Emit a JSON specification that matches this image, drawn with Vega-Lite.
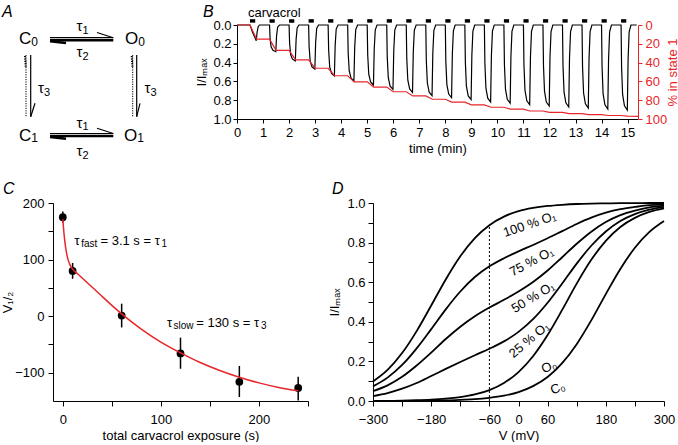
{
"$schema": "https://vega.github.io/schema/vega-lite/v6.json",
"padding": 0,
"bounds": "flush",
"spacing": 178,
"config": {
  "view": {"stroke": null},
  "font": "Liberation Sans",
  "axis": {"grid": false, "domainColor": "#000", "tickColor": "#000", "labelColor": "#000", "titleColor": "#000", "labelFontSize": 13, "titleFontSize": 13, "titleFontWeight": "normal", "domainWidth": 1, "tickWidth": 1, "labelFlush": false, "labelOverlap": false}
},
"vconcat": [
{
 "bounds": "flush",
 "spacing": 20,
 "hconcat": [
 {
  "width": 164, "height": 94,
  "layer": [
   {"data": {"values": [{"x": 0, "y": 0, "x2": 0.1, "y2": 0}]},
    "mark": {"type": "rule", "opacity": 0},
    "encoding": {"x": {"field": "x", "type": "quantitative", "scale": {"domain": [5.3, 21.7], "nice": false}, "axis": null},
                 "y": {"field": "y", "type": "quantitative", "scale": {"domain": [2.5, 11.9], "nice": false, "reverse": true}, "axis": null},
                 "x2": {"field": "x2"}, "y2": {"field": "y2"}}},
   {"data": {"values": [
      {"x": 5.0, "y": 3.77, "x2": 11.33, "y2": 3.77},
      {"x": 9.7, "y": 3.25, "x2": 11.33, "y2": 3.77},
      {"x": 5.0, "y": 13.35, "x2": 11.33, "y2": 13.35},
      {"x": 9.7, "y": 12.83, "x2": 11.33, "y2": 13.35},
      {"x": 3.07, "y": 5.5, "x2": 3.07, "y2": 11.67},
      {"x": 3.5, "y": 10.33, "x2": 3.07, "y2": 11.67},
      {"x": 13.67, "y": 5.5, "x2": 13.67, "y2": 11.67},
      {"x": 14.0, "y": 10.33, "x2": 13.67, "y2": 11.67}]},
    "mark": {"type": "rule", "color": "#000", "strokeWidth": 1.2},
    "encoding": {"x": {"field": "x", "type": "quantitative", "scale": {"domain": [5.3, 21.7], "nice": false}, "axis": null},
                 "y": {"field": "y", "type": "quantitative", "scale": {"domain": [2.5, 11.9], "nice": false, "reverse": true}, "axis": null},
                 "x2": {"field": "x2"}, "y2": {"field": "y2"}}},
   {"data": {"values": [
      {"x": 5.0, "y": 4.03, "x2": 11.33, "y2": 4.03},
      {"x": 5.0, "y": 4.12, "x2": 6.6, "y2": 4.3},
      {"x": 5.0, "y": 13.6, "x2": 11.33, "y2": 13.6},
      {"x": 5.0, "y": 13.69, "x2": 6.6, "y2": 13.87}]},
    "mark": {"type": "rule", "color": "#000", "strokeWidth": 2.5},
    "encoding": {"x": {"field": "x", "type": "quantitative", "scale": {"domain": [5.3, 21.7], "nice": false}, "axis": null},
                 "y": {"field": "y", "type": "quantitative", "scale": {"domain": [2.5, 11.9], "nice": false, "reverse": true}, "axis": null},
                 "x2": {"field": "x2"}, "y2": {"field": "y2"}}},
   {"data": {"values": [
      {"x": 2.6, "y": 5.5, "x2": 2.6, "y2": 11.67},
      {"x": 13.27, "y": 5.5, "x2": 13.27, "y2": 11.67}]},
    "mark": {"type": "rule", "color": "#000", "strokeWidth": 1, "strokeDash": [1.2, 1.2]},
    "encoding": {"x": {"field": "x", "type": "quantitative", "scale": {"domain": [5.3, 21.7], "nice": false}, "axis": null},
                 "y": {"field": "y", "type": "quantitative", "scale": {"domain": [2.5, 11.9], "nice": false, "reverse": true}, "axis": null},
                 "x2": {"field": "x2"}, "y2": {"field": "y2"}}},
   {"data": {"values": [
      {"x": 2.5, "y": 5.6, "x2": 2.58, "y2": 6.8},
      {"x": 13.17, "y": 5.6, "x2": 13.25, "y2": 6.8}]},
    "mark": {"type": "rule", "color": "#000", "strokeWidth": 2, "strokeDash": [1.2, 1.2]},
    "encoding": {"x": {"field": "x", "type": "quantitative", "scale": {"domain": [5.3, 21.7], "nice": false}, "axis": null},
                 "y": {"field": "y", "type": "quantitative", "scale": {"domain": [2.5, 11.9], "nice": false, "reverse": true}, "axis": null},
                 "x2": {"field": "x2"}, "y2": {"field": "y2"}}},
   {"data": {"values": [
      {"x": 3.12, "y": 4.4, "t": "C"}, {"x": 13.82, "y": 4.4, "t": "O"},
      {"x": 3.12, "y": 14.07, "t": "C"}, {"x": 13.72, "y": 14.07, "t": "O"}]},
    "mark": {"type": "text", "fontSize": 17, "align": "right", "baseline": "alphabetic", "color": "#000"},
    "encoding": {"x": {"field": "x", "type": "quantitative", "scale": {"domain": [5.3, 21.7], "nice": false}, "axis": null},
                 "y": {"field": "y", "type": "quantitative", "scale": {"domain": [2.5, 11.9], "nice": false, "reverse": true}, "axis": null},
                 "text": {"field": "t"}}},
   {"data": {"values": [
      {"x": 3.12, "y": 4.55, "t": "0"}, {"x": 13.82, "y": 4.55, "t": "0"},
      {"x": 3.12, "y": 14.22, "t": "1"}, {"x": 13.72, "y": 14.22, "t": "1"}]},
    "mark": {"type": "text", "fontSize": 12, "align": "left", "baseline": "alphabetic", "color": "#000"},
    "encoding": {"x": {"field": "x", "type": "quantitative", "scale": {"domain": [5.3, 21.7], "nice": false}, "axis": null},
                 "y": {"field": "y", "type": "quantitative", "scale": {"domain": [2.5, 11.9], "nice": false, "reverse": true}, "axis": null},
                 "text": {"field": "t"}}},
   {"data": {"values": [
      {"x": 8.25, "y": 3.1, "t": "τ"}, {"x": 8.25, "y": 5.7, "t": "τ"},
      {"x": 8.25, "y": 12.75, "t": "τ"}, {"x": 8.25, "y": 15.6, "t": "τ"},
      {"x": 4.4, "y": 9.3, "t": "τ"}, {"x": 15.05, "y": 9.3, "t": "τ"}]},
    "mark": {"type": "text", "fontSize": 15, "align": "right", "baseline": "alphabetic", "color": "#000"},
    "encoding": {"x": {"field": "x", "type": "quantitative", "scale": {"domain": [5.3, 21.7], "nice": false}, "axis": null},
                 "y": {"field": "y", "type": "quantitative", "scale": {"domain": [2.5, 11.9], "nice": false, "reverse": true}, "axis": null},
                 "text": {"field": "t"}}},
   {"data": {"values": [
      {"x": 8.25, "y": 3.35, "t": "1"}, {"x": 8.25, "y": 5.95, "t": "2"},
      {"x": 8.25, "y": 13.0, "t": "1"}, {"x": 8.25, "y": 15.85, "t": "2"},
      {"x": 4.4, "y": 9.55, "t": "3"}, {"x": 15.05, "y": 9.55, "t": "3"}]},
    "mark": {"type": "text", "fontSize": 11, "align": "left", "baseline": "alphabetic", "color": "#000"},
    "encoding": {"x": {"field": "x", "type": "quantitative", "scale": {"domain": [5.3, 21.7], "nice": false}, "axis": null},
                 "y": {"field": "y", "type": "quantitative", "scale": {"domain": [2.5, 11.9], "nice": false, "reverse": true}, "axis": null},
                 "text": {"field": "t"}}},
   {"data": {"values": [
      {"x": 0.2, "y": 0.38, "t": "A"}, {"x": 20.3, "y": 0.38, "t": "B"},
      {"x": 0.3, "y": 18.05, "t": "C"}, {"x": 33.2, "y": 18.05, "t": "D"}]},
    "mark": {"type": "text", "fontSize": 16, "fontStyle": "italic", "align": "left", "baseline": "top", "color": "#000"},
    "encoding": {"x": {"field": "x", "type": "quantitative", "scale": {"domain": [5.3, 21.7], "nice": false}, "axis": null},
                 "y": {"field": "y", "type": "quantitative", "scale": {"domain": [2.5, 11.9], "nice": false, "reverse": true}, "axis": null},
                 "text": {"field": "t"}}}
  ]
 },
 {
  "width": 401, "height": 94,
  "resolve": {"scale": {"y": "independent"}},
  "layer": [
   {"layer": [
     {"data": {"values": [
       {"s": 0.5, "e": 0.7}, {"s": 1.25, "e": 1.45}, {"s": 2.0, "e": 2.2}, {"s": 2.75, "e": 2.95},
       {"s": 3.5, "e": 3.7}, {"s": 4.25, "e": 4.45}, {"s": 5.0, "e": 5.2}, {"s": 5.75, "e": 5.95},
       {"s": 6.5, "e": 6.7}, {"s": 7.25, "e": 7.45}, {"s": 8.0, "e": 8.2}, {"s": 8.75, "e": 8.95},
       {"s": 9.5, "e": 9.7}, {"s": 10.25, "e": 10.45}, {"s": 11.0, "e": 11.2}, {"s": 11.75, "e": 11.95},
       {"s": 12.5, "e": 12.7}, {"s": 13.25, "e": 13.45}, {"s": 14.0, "e": 14.2}, {"s": 14.75, "e": 14.95}]},
      "mark": {"type": "rect", "color": "#000"},
      "encoding": {
        "x": {"field": "s", "type": "quantitative", "scale": {"domain": [0, 15.4], "nice": false},
              "axis": {"title": "time (min)", "values": [0,1,2,3,4,5,6,7,8,9,10,11,12,13,14,15], "format": "d", "tickSize": 4, "labelPadding": 3, "titlePadding": 3}},
        "x2": {"field": "e"},
        "y": {"datum": -0.025, "type": "quantitative", "scale": {"domain": [0, 1], "nice": false, "reverse": true},
              "axis": {"title": "I/Iₘₐₓ", "values": [0, 0.2, 0.4, 0.6, 0.8, 1], "format": ".1f", "tickSize": 4, "labelPadding": 2, "titlePadding": 4}},
        "y2": {"datum": -0.062}}},
     {"data": {"values": [{"label": "carvacrol"}]},
      "mark": {"type": "text", "align": "left", "baseline": "alphabetic", "fontSize": 13, "color": "#000"},
      "encoding": {
        "x": {"datum": 0.42, "type": "quantitative", "scale": {"domain": [0, 15.4], "nice": false},
              "axis": {"title": "time (min)", "values": [0,1,2,3,4,5,6,7,8,9,10,11,12,13,14,15], "format": "d", "tickSize": 4, "labelPadding": 3, "titlePadding": 3}},
        "y": {"datum": -0.09, "type": "quantitative", "scale": {"domain": [0, 1], "nice": false, "reverse": true},
              "axis": {"title": "I/Iₘₐₓ", "values": [0, 0.2, 0.4, 0.6, 0.8, 1], "format": ".1f", "tickSize": 4, "labelPadding": 2, "titlePadding": 4}},
        "text": {"field": "label"}}},
     {"data": {"values": [
       {"t":0,"i":0},{"t":0.5,"i":0},{"t":0.6,"i":0.08},{"t":0.7,"i":0.14},{"t":0.74,"i":0.167},{"t":0.77,"i":0.08},{"t":0.81,"i":0.02},{"t":0.86,"i":0},
       {"t":1.25,"i":0},{"t":1.27,"i":0.142},{"t":1.31,"i":0.233},{"t":1.38,"i":0.27},{"t":1.49,"i":0.284},{"t":1.52,"i":0.114},{"t":1.56,"i":0.023},{"t":1.63,"i":0},
       {"t":2.0,"i":0},{"t":2.02,"i":0.192},{"t":2.06,"i":0.314},{"t":2.13,"i":0.364},{"t":2.24,"i":0.383},{"t":2.27,"i":0.153},{"t":2.31,"i":0.031},{"t":2.38,"i":0},
       {"t":2.75,"i":0},{"t":2.77,"i":0.234},{"t":2.81,"i":0.384},{"t":2.88,"i":0.445},{"t":2.99,"i":0.468},{"t":3.02,"i":0.187},{"t":3.06,"i":0.037},{"t":3.13,"i":0},
       {"t":3.5,"i":0},{"t":3.52,"i":0.272},{"t":3.56,"i":0.445},{"t":3.63,"i":0.516},{"t":3.74,"i":0.543},{"t":3.77,"i":0.217},{"t":3.81,"i":0.043},{"t":3.88,"i":0},
       {"t":4.25,"i":0},{"t":4.27,"i":0.298},{"t":4.31,"i":0.489},{"t":4.38,"i":0.566},{"t":4.49,"i":0.596},{"t":4.52,"i":0.238},{"t":4.56,"i":0.048},{"t":4.63,"i":0},
       {"t":5.0,"i":0},{"t":5.02,"i":0.319},{"t":5.06,"i":0.523},{"t":5.13,"i":0.606},{"t":5.24,"i":0.638},{"t":5.27,"i":0.255},{"t":5.31,"i":0.051},{"t":5.38,"i":0},
       {"t":5.75,"i":0},{"t":5.77,"i":0.342},{"t":5.81,"i":0.561},{"t":5.88,"i":0.65},{"t":5.99,"i":0.684},{"t":6.02,"i":0.274},{"t":6.06,"i":0.055},{"t":6.13,"i":0},
       {"t":6.5,"i":0},{"t":6.52,"i":0.358},{"t":6.56,"i":0.587},{"t":6.63,"i":0.68},{"t":6.74,"i":0.716},{"t":6.77,"i":0.286},{"t":6.81,"i":0.057},{"t":6.88,"i":0},
       {"t":7.25,"i":0},{"t":7.27,"i":0.376},{"t":7.31,"i":0.617},{"t":7.38,"i":0.714},{"t":7.49,"i":0.752},{"t":7.52,"i":0.301},{"t":7.56,"i":0.06},{"t":7.63,"i":0},
       {"t":8.0,"i":0},{"t":8.02,"i":0.387},{"t":8.06,"i":0.634},{"t":8.13,"i":0.734},{"t":8.24,"i":0.773},{"t":8.27,"i":0.309},{"t":8.31,"i":0.062},{"t":8.38,"i":0},
       {"t":8.75,"i":0},{"t":8.77,"i":0.397},{"t":8.81,"i":0.651},{"t":8.88,"i":0.754},{"t":8.99,"i":0.794},{"t":9.02,"i":0.318},{"t":9.06,"i":0.064},{"t":9.13,"i":0},
       {"t":9.5,"i":0},{"t":9.52,"i":0.41},{"t":9.56,"i":0.672},{"t":9.63,"i":0.778},{"t":9.74,"i":0.819},{"t":9.77,"i":0.328},{"t":9.81,"i":0.066},{"t":9.88,"i":0},
       {"t":10.25,"i":0},{"t":10.27,"i":0.417},{"t":10.31,"i":0.683},{"t":10.38,"i":0.791},{"t":10.49,"i":0.833},{"t":10.52,"i":0.333},{"t":10.56,"i":0.067},{"t":10.63,"i":0},
       {"t":11.0,"i":0},{"t":11.02,"i":0.424},{"t":11.06,"i":0.695},{"t":11.13,"i":0.806},{"t":11.24,"i":0.848},{"t":11.27,"i":0.339},{"t":11.31,"i":0.068},{"t":11.38,"i":0},
       {"t":11.75,"i":0},{"t":11.77,"i":0.431},{"t":11.81,"i":0.707},{"t":11.88,"i":0.819},{"t":11.99,"i":0.862},{"t":12.02,"i":0.345},{"t":12.06,"i":0.069},{"t":12.13,"i":0},
       {"t":12.5,"i":0},{"t":12.52,"i":0.436},{"t":12.56,"i":0.715},{"t":12.63,"i":0.828},{"t":12.74,"i":0.872},{"t":12.77,"i":0.349},{"t":12.81,"i":0.07},{"t":12.88,"i":0},
       {"t":13.25,"i":0},{"t":13.27,"i":0.442},{"t":13.31,"i":0.724},{"t":13.38,"i":0.839},{"t":13.49,"i":0.883},{"t":13.52,"i":0.353},{"t":13.56,"i":0.071},{"t":13.63,"i":0},
       {"t":14.0,"i":0},{"t":14.02,"i":0.447},{"t":14.06,"i":0.733},{"t":14.13,"i":0.849},{"t":14.24,"i":0.894},{"t":14.27,"i":0.358},{"t":14.31,"i":0.072},{"t":14.38,"i":0},
       {"t":14.75,"i":0},{"t":14.77,"i":0.452},{"t":14.81,"i":0.741},{"t":14.88,"i":0.859},{"t":14.99,"i":0.904},{"t":15.02,"i":0.362},{"t":15.06,"i":0.072},{"t":15.13,"i":0},
       {"t":15.35,"i":0}]},
      "mark": {"type": "line", "color": "#000", "strokeWidth": 1.2},
      "encoding": {
        "x": {"field": "t", "type": "quantitative", "scale": {"domain": [0, 15.4], "nice": false},
              "axis": {"title": "time (min)", "values": [0,1,2,3,4,5,6,7,8,9,10,11,12,13,14,15], "format": "d", "tickSize": 4, "labelPadding": 3, "titlePadding": 3}},
        "y": {"field": "i", "type": "quantitative", "scale": {"domain": [0, 1], "nice": false, "reverse": true},
              "axis": {"title": "I/Iₘₐₓ", "values": [0, 0.2, 0.4, 0.6, 0.8, 1], "format": ".1f", "tickSize": 4, "labelPadding": 2, "titlePadding": 4}}}}
   ]},
   {"data": {"values": [
      {"t":0,"p":0},{"t":0.5,"p":0},{"t":0.75,"p":15},{"t":1.25,"p":15},{"t":1.5,"p":27},{"t":2.0,"p":27},{"t":2.25,"p":37},{"t":2.75,"p":37},
      {"t":3.0,"p":46},{"t":3.5,"p":46},{"t":3.75,"p":54},{"t":4.25,"p":54},{"t":4.5,"p":60.5},{"t":5.0,"p":60.5},{"t":5.25,"p":66},{"t":5.75,"p":66},
      {"t":6.0,"p":71},{"t":6.5,"p":71},{"t":6.75,"p":75.5},{"t":7.25,"p":75.5},{"t":7.5,"p":79},{"t":8.0,"p":79},{"t":8.25,"p":82},{"t":8.75,"p":82},
      {"t":9.0,"p":85},{"t":9.5,"p":85},{"t":9.75,"p":87.5},{"t":10.25,"p":87.5},{"t":10.5,"p":89.5},{"t":11.0,"p":89.5},{"t":11.25,"p":91.5},{"t":11.75,"p":91.5},
      {"t":12.0,"p":93},{"t":12.5,"p":93},{"t":12.75,"p":94.3},{"t":13.25,"p":94.3},{"t":13.5,"p":95.4},{"t":14.0,"p":95.4},{"t":14.25,"p":96.3},{"t":14.75,"p":96.3},
      {"t":15.0,"p":97},{"t":15.4,"p":97.2}]},
    "mark": {"type": "line", "color": "#e8262a", "strokeWidth": 1.2},
    "encoding": {
      "x": {"field": "t", "type": "quantitative", "scale": {"domain": [0, 15.4], "nice": false},
            "axis": {"title": "time (min)", "values": [0,1,2,3,4,5,6,7,8,9,10,11,12,13,14,15], "format": "d", "tickSize": 4, "labelPadding": 3, "titlePadding": 3}},
      "y": {"field": "p", "type": "quantitative", "scale": {"domain": [0, 100], "nice": false, "reverse": true},
            "axis": {"orient": "right", "title": "% in state 1", "values": [0, 20, 40, 60, 80, 100], "tickSize": 4, "labelPadding": 3, "titlePadding": 0, "titleAngle": 270, "titleBaseline": "top",
                     "domainColor": "#e8262a", "tickColor": "#e8262a", "labelColor": "#e8262a", "titleColor": "#e8262a"}}}}
  ]
 }
 ]
},
{
 "bounds": "flush",
 "spacing": 65,
 "hconcat": [
 {
  "width": 255, "height": 198,
  "layer": [
   {"data": {"values": [
      {"t": 0, "v": 175, "lo": 165, "hi": 185},
      {"t": 10, "v": 80, "lo": 66, "hi": 94},
      {"t": 60, "v": 1, "lo": -20, "hi": 22},
      {"t": 120, "v": -66, "lo": -93, "hi": -38},
      {"t": 180, "v": -116, "lo": -143, "hi": -88},
      {"t": 240, "v": -127, "lo": -149, "hi": -107}]},
    "layer": [
     {"mark": {"type": "rule", "color": "#000", "strokeWidth": 1.5},
      "encoding": {
        "x": {"field": "t", "type": "quantitative", "scale": {"domain": [-10, 250], "nice": false},
              "axis": {"title": "total carvacrol exposure (s)", "values": [0, 50, 100, 150, 200, 250], "labelExpr": "datum.value % 100 === 0 ? datum.label : ''", "tickSize": 5, "labelPadding": 7, "titlePadding": 3}},
        "y": {"field": "lo", "type": "quantitative", "scale": {"domain": [-150, 200], "nice": false},
              "axis": {"title": "V₁/₂", "values": [-100, -50, 0, 50, 100, 150, 200], "labelExpr": "datum.value % 100 === 0 ? replace(datum.label, '-', '−') : ''", "tickSize": 5, "labelPadding": 4, "titlePadding": 0}},
        "y2": {"field": "hi"}}},
     {"mark": {"type": "circle", "color": "#000", "size": 60, "opacity": 1},
      "encoding": {
        "x": {"field": "t", "type": "quantitative", "scale": {"domain": [-10, 250], "nice": false},
              "axis": {"title": "total carvacrol exposure (s)", "values": [0, 50, 100, 150, 200, 250], "labelExpr": "datum.value % 100 === 0 ? datum.label : ''", "tickSize": 5, "labelPadding": 7, "titlePadding": 3}},
        "y": {"field": "v", "type": "quantitative", "scale": {"domain": [-150, 200], "nice": false},
              "axis": {"title": "V₁/₂", "values": [-100, -50, 0, 50, 100, 150, 200], "labelExpr": "datum.value % 100 === 0 ? replace(datum.label, '-', '−') : ''", "tickSize": 5, "labelPadding": 4, "titlePadding": 0}}}}
    ]},
   {"data": {"values": [
      {"t": 0, "v": 171}, {"t": 1, "v": 150}, {"t": 2, "v": 133}, {"t": 3, "v": 120}, {"t": 4, "v": 110}, {"t": 5, "v": 102},
      {"t": 7, "v": 92}, {"t": 10, "v": 83}, {"t": 15, "v": 75}, {"t": 20, "v": 67}, {"t": 30, "v": 51}, {"t": 40, "v": 35},
      {"t": 50, "v": 19}, {"t": 60, "v": 4}, {"t": 80, "v": -23}, {"t": 100, "v": -46}, {"t": 120, "v": -65}, {"t": 140, "v": -82},
      {"t": 160, "v": -96}, {"t": 180, "v": -108}, {"t": 200, "v": -118}, {"t": 220, "v": -126}, {"t": 240, "v": -132}]},
    "mark": {"type": "line", "color": "#e8262a", "strokeWidth": 1.5, "interpolate": "monotone"},
    "encoding": {
      "x": {"field": "t", "type": "quantitative", "scale": {"domain": [-10, 250], "nice": false},
            "axis": {"title": "total carvacrol exposure (s)", "values": [0, 50, 100, 150, 200, 250], "labelExpr": "datum.value % 100 === 0 ? datum.label : ''", "tickSize": 5, "labelPadding": 7, "titlePadding": 3}},
      "y": {"field": "v", "type": "quantitative", "scale": {"domain": [-150, 200], "nice": false},
            "axis": {"title": "V₁/₂", "values": [-100, -50, 0, 50, 100, 150, 200], "labelExpr": "datum.value % 100 === 0 ? replace(datum.label, '-', '−') : ''", "tickSize": 5, "labelPadding": 4, "titlePadding": 0}}}},
   {"data": {"values": [
      {"t": 11.9, "v": 126.5, "s": "τ"}, {"t": 38.4, "v": 126.5, "s": "= 3.1 s = τ"},
      {"t": 106.2, "v": -18.7, "s": "τ"}, {"t": 136, "v": -18.7, "s": "= 130 s = τ"}]},
    "mark": {"type": "text", "align": "left", "baseline": "alphabetic", "fontSize": 13, "color": "#000"},
    "encoding": {
      "x": {"field": "t", "type": "quantitative", "scale": {"domain": [-10, 250], "nice": false},
            "axis": {"title": "total carvacrol exposure (s)", "values": [0, 50, 100, 150, 200, 250], "labelExpr": "datum.value % 100 === 0 ? datum.label : ''", "tickSize": 5, "labelPadding": 7, "titlePadding": 3}},
      "y": {"field": "v", "type": "quantitative", "scale": {"domain": [-150, 200], "nice": false},
            "axis": {"title": "V₁/₂", "values": [-100, -50, 0, 50, 100, 150, 200], "labelExpr": "datum.value % 100 === 0 ? replace(datum.label, '-', '−') : ''", "tickSize": 5, "labelPadding": 4, "titlePadding": 0}},
      "text": {"field": "s"}}},
   {"data": {"values": [
      {"t": 18.7, "v": 121.5, "s": "fast"}, {"t": 100.5, "v": 121.5, "s": "1"},
      {"t": 112.9, "v": -23.5, "s": "slow"}, {"t": 202, "v": -23.5, "s": "3"}]},
    "mark": {"type": "text", "align": "left", "baseline": "alphabetic", "fontSize": 10, "color": "#000"},
    "encoding": {
      "x": {"field": "t", "type": "quantitative", "scale": {"domain": [-10, 250], "nice": false},
            "axis": {"title": "total carvacrol exposure (s)", "values": [0, 50, 100, 150, 200, 250], "labelExpr": "datum.value % 100 === 0 ? datum.label : ''", "tickSize": 5, "labelPadding": 7, "titlePadding": 3}},
      "y": {"field": "v", "type": "quantitative", "scale": {"domain": [-150, 200], "nice": false},
            "axis": {"title": "V₁/₂", "values": [-100, -50, 0, 50, 100, 150, 200], "labelExpr": "datum.value % 100 === 0 ? replace(datum.label, '-', '−') : ''", "tickSize": 5, "labelPadding": 4, "titlePadding": 0}},
      "text": {"field": "s"}}}
  ]
 },
 {
  "width": 291, "height": 198,
  "encoding": {
    "x": {"field": "v", "type": "quantitative", "scale": {"domain": [-300, 300], "nice": false},
          "axis": {"title": "V (mV)", "values": [-300, -240, -180, -120, -60, 0, 60, 120, 180, 240, 300], "labelExpr": "indexof([-300, -180, -60, 0, 60, 180, 300], datum.value) >= 0 ? replace(datum.label, '-', '−') : ''", "tickSize": 5, "labelPadding": 7, "titlePadding": 3}},
    "y": {"field": "i", "type": "quantitative", "scale": {"domain": [0, 1], "nice": false},
          "axis": {"title": "I/Iₘₐₓ", "values": [0, 0.1, 0.2, 0.3, 0.4, 0.5, 0.6, 0.7, 0.8, 0.9, 1], "format": ".1f", "labelExpr": "round(datum.value * 10) % 2 === 0 ? datum.label : ''", "tickSize": 5, "labelPadding": 3, "titlePadding": 5}}
  },
  "layer": [
   {"data": {"values": [
     {"c":"100","v":-300,"i":0.099},{"c":"100","v":-270,"i":0.157},{"c":"100","v":-240,"i":0.242},{"c":"100","v":-210,"i":0.353},{"c":"100","v":-180,"i":0.482},{"c":"100","v":-150,"i":0.614},{"c":"100","v":-120,"i":0.731},{"c":"100","v":-90,"i":0.823},{"c":"100","v":-60,"i":0.888},{"c":"100","v":-30,"i":0.931},{"c":"100","v":0,"i":0.959},{"c":"100","v":30,"i":0.975},{"c":"100","v":60,"i":0.985},{"c":"100","v":90,"i":0.991},{"c":"100","v":120,"i":0.995},{"c":"100","v":150,"i":0.997},{"c":"100","v":180,"i":0.998},{"c":"100","v":210,"i":0.999},{"c":"100","v":240,"i":0.999},{"c":"100","v":270,"i":1.0},{"c":"100","v":300,"i":1.0},
     {"c":"75","v":-300,"i":0.074},{"c":"75","v":-270,"i":0.118},{"c":"75","v":-240,"i":0.182},{"c":"75","v":-210,"i":0.266},{"c":"75","v":-180,"i":0.363},{"c":"75","v":-150,"i":0.463},{"c":"75","v":-120,"i":0.553},{"c":"75","v":-90,"i":0.626},{"c":"75","v":-60,"i":0.68},{"c":"75","v":-30,"i":0.721},{"c":"75","v":0,"i":0.756},{"c":"75","v":30,"i":0.788},{"c":"75","v":60,"i":0.822},{"c":"75","v":90,"i":0.858},{"c":"75","v":120,"i":0.894},{"c":"75","v":150,"i":0.926},{"c":"75","v":180,"i":0.951},{"c":"75","v":210,"i":0.969},{"c":"75","v":240,"i":0.98},{"c":"75","v":270,"i":0.989},{"c":"75","v":300,"i":0.993},
     {"c":"50","v":-300,"i":0.05},{"c":"50","v":-270,"i":0.079},{"c":"50","v":-240,"i":0.122},{"c":"50","v":-210,"i":0.179},{"c":"50","v":-180,"i":0.244},{"c":"50","v":-150,"i":0.313},{"c":"50","v":-120,"i":0.375},{"c":"50","v":-90,"i":0.428},{"c":"50","v":-60,"i":0.472},{"c":"50","v":-30,"i":0.511},{"c":"50","v":0,"i":0.553},{"c":"50","v":30,"i":0.601},{"c":"50","v":60,"i":0.659},{"c":"50","v":90,"i":0.726},{"c":"50","v":120,"i":0.794},{"c":"50","v":150,"i":0.855},{"c":"50","v":180,"i":0.904},{"c":"50","v":210,"i":0.939},{"c":"50","v":240,"i":0.962},{"c":"50","v":270,"i":0.978},{"c":"50","v":300,"i":0.987},
     {"c":"25","v":-300,"i":0.025},{"c":"25","v":-270,"i":0.04},{"c":"25","v":-240,"i":0.062},{"c":"25","v":-210,"i":0.091},{"c":"25","v":-180,"i":0.126},{"c":"25","v":-150,"i":0.162},{"c":"25","v":-120,"i":0.197},{"c":"25","v":-90,"i":0.231},{"c":"25","v":-60,"i":0.264},{"c":"25","v":-30,"i":0.301},{"c":"25","v":0,"i":0.349},{"c":"25","v":30,"i":0.413},{"c":"25","v":60,"i":0.496},{"c":"25","v":90,"i":0.593},{"c":"25","v":120,"i":0.694},{"c":"25","v":150,"i":0.784},{"c":"25","v":180,"i":0.856},{"c":"25","v":210,"i":0.909},{"c":"25","v":240,"i":0.944},{"c":"25","v":270,"i":0.966},{"c":"25","v":300,"i":0.98},
     {"c":"O0","v":-300,"i":0.001},{"c":"O0","v":-270,"i":0.001},{"c":"O0","v":-240,"i":0.002},{"c":"O0","v":-210,"i":0.004},{"c":"O0","v":-180,"i":0.007},{"c":"O0","v":-150,"i":0.012},{"c":"O0","v":-120,"i":0.02},{"c":"O0","v":-90,"i":0.033},{"c":"O0","v":-60,"i":0.055},{"c":"O0","v":-30,"i":0.091},{"c":"O0","v":0,"i":0.146},{"c":"O0","v":30,"i":0.226},{"c":"O0","v":60,"i":0.333},{"c":"O0","v":90,"i":0.46},{"c":"O0","v":120,"i":0.593},{"c":"O0","v":150,"i":0.713},{"c":"O0","v":180,"i":0.809},{"c":"O0","v":210,"i":0.879},{"c":"O0","v":240,"i":0.925},{"c":"O0","v":270,"i":0.955},{"c":"O0","v":300,"i":0.973},
     {"c":"C0","v":-300,"i":0.0},{"c":"C0","v":-270,"i":0.0},{"c":"C0","v":-240,"i":0.001},{"c":"C0","v":-210,"i":0.001},{"c":"C0","v":-180,"i":0.002},{"c":"C0","v":-150,"i":0.003},{"c":"C0","v":-120,"i":0.006},{"c":"C0","v":-90,"i":0.009},{"c":"C0","v":-60,"i":0.016},{"c":"C0","v":-30,"i":0.027},{"c":"C0","v":0,"i":0.045},{"c":"C0","v":30,"i":0.075},{"c":"C0","v":60,"i":0.121},{"c":"C0","v":90,"i":0.191},{"c":"C0","v":120,"i":0.287},{"c":"C0","v":150,"i":0.407},{"c":"C0","v":180,"i":0.54},{"c":"C0","v":210,"i":0.667},{"c":"C0","v":240,"i":0.774},{"c":"C0","v":270,"i":0.854},{"c":"C0","v":300,"i":0.909}]},
    "mark": {"type": "line", "color": "#000", "strokeWidth": 1.8, "interpolate": "monotone"},
    "encoding": {"detail": {"field": "c", "type": "nominal"}}},
   {"data": {"values": [{"v": -60, "i": 0, "top": 0.888}]},
    "mark": {"type": "rule", "color": "#000", "strokeWidth": 1, "strokeDash": [2, 2]},
    "encoding": {"y2": {"field": "top"}}},
   {"data": {"values": [{"v": 23, "i": 0.892, "label": "100 % O₁"}]},
    "mark": {"type": "text", "angle": -19, "fontSize": 13, "color": "#000"},
    "encoding": {"text": {"field": "label"}}},
   {"data": {"values": [{"v": 27, "i": 0.703, "label": "75 % O₁"}]},
    "mark": {"type": "text", "angle": -28, "fontSize": 13, "color": "#000"},
    "encoding": {"text": {"field": "label"}}},
   {"data": {"values": [{"v": 30, "i": 0.523, "label": "50 % O₁"}]},
    "mark": {"type": "text", "angle": -31, "fontSize": 13, "color": "#000"},
    "encoding": {"text": {"field": "label"}}},
   {"data": {"values": [{"v": 22, "i": 0.308, "label": "25 % O₁"}]},
    "mark": {"type": "text", "angle": -40, "fontSize": 13, "color": "#000"},
    "encoding": {"text": {"field": "label"}}},
   {"data": {"values": [{"v": 63, "i": 0.173, "label": "O₀"}]},
    "mark": {"type": "text", "angle": -20, "fontSize": 13, "color": "#000"},
    "encoding": {"text": {"field": "label"}}},
   {"data": {"values": [{"v": 81, "i": 0.064, "label": "C₀"}]},
    "mark": {"type": "text", "angle": -20, "fontSize": 13, "color": "#000"},
    "encoding": {"text": {"field": "label"}}}
  ]
 }
 ]
}
]
}
